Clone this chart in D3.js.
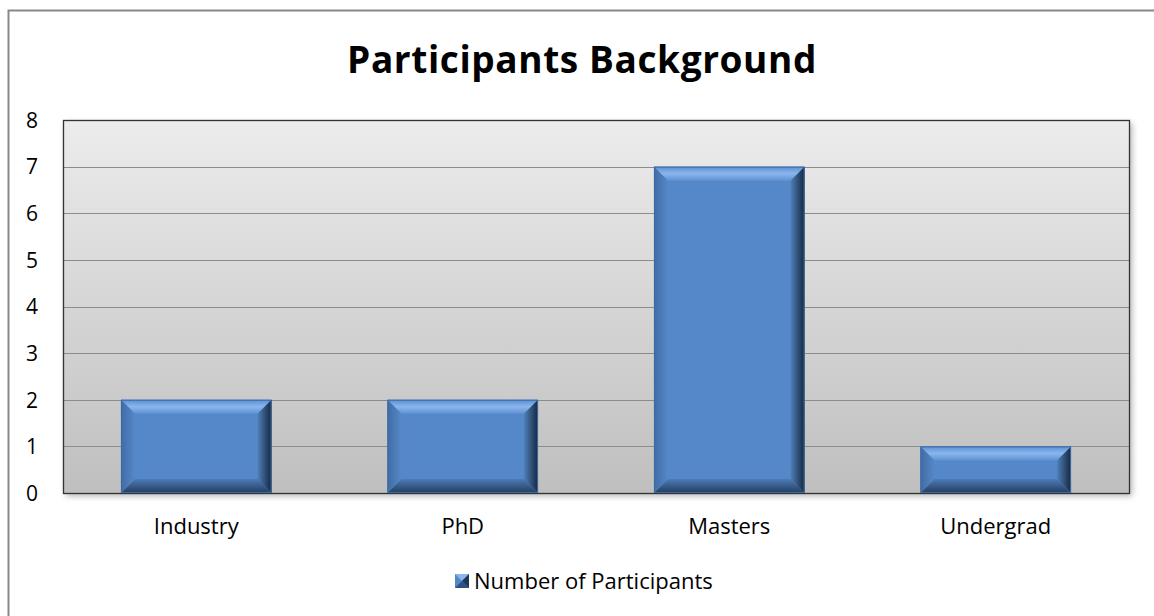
<!DOCTYPE html>
<html>
<head>
<meta charset="utf-8">
<script src="https://cdn.jsdelivr.net/npm/d3@7"></script>
<style>
  body { margin: 0; background: #fff; }
  text { font-family: "Open Sans", sans-serif; fill: #000; }
</style>
</head>
<body>
<svg id="chart" width="1154" height="616"></svg>
<script>
const categories = ["Industry", "PhD", "Masters", "Undergrad"];
const participants = [2, 2, 7, 1];
const yTicks = [0, 1, 2, 3, 4, 5, 6, 7, 8];
const seriesName = "Number of Participants";

const WIDTH = 1154, HEIGHT = 616;
const PLOT = { left: 63, right: 1129, top: 120, bottom: 493 };
const BEVEL = 14;

const svg = d3.select("#chart");
const defs = svg.append("defs");

const bg = defs.append("linearGradient").attr("id", "bg")
  .attr("x1", 0).attr("y1", 0).attr("x2", 0).attr("y2", 1);
bg.append("stop").attr("offset", "0%").attr("stop-color", "#ececec");
bg.append("stop").attr("offset", "100%").attr("stop-color", "#bfbfbf");

const shadow = defs.append("filter").attr("id", "shadow")
  .attr("x", "-5%").attr("y", "-5%").attr("width", "110%").attr("height", "115%");
shadow.append("feDropShadow").attr("dx", 3).attr("dy", 3).attr("stdDeviation", 3)
  .attr("flood-color", "#000").attr("flood-opacity", 0.3);

const topG = defs.append("linearGradient").attr("id", "bevelTop")
  .attr("x1", 0).attr("y1", 0).attr("x2", 0).attr("y2", 1);
topG.append("stop").attr("offset", "0%").attr("stop-color", "#5b8fd0");
topG.append("stop").attr("offset", "50%").attr("stop-color", "#8ab6ef");
topG.append("stop").attr("offset", "100%").attr("stop-color", "#5f92d2");

const rightG = defs.append("linearGradient").attr("id", "bevelRight")
  .attr("x1", 0).attr("y1", 0).attr("x2", 1).attr("y2", 0);
rightG.append("stop").attr("offset", "0%").attr("stop-color", "#4f7fb9");
rightG.append("stop").attr("offset", "100%").attr("stop-color", "#15273f");

const botG = defs.append("linearGradient").attr("id", "bevelBottom")
  .attr("x1", 0).attr("y1", 0).attr("x2", 0).attr("y2", 1);
botG.append("stop").attr("offset", "0%").attr("stop-color", "#4c7bb4");
botG.append("stop").attr("offset", "100%").attr("stop-color", "#233d60");

const leftG = defs.append("linearGradient").attr("id", "bevelLeft")
  .attr("x1", 0).attr("y1", 0).attr("x2", 1).attr("y2", 0);
leftG.append("stop").attr("offset", "0%").attr("stop-color", "#3f6ca5");
leftG.append("stop").attr("offset", "100%").attr("stop-color", "#5688c8");

// Outer chart border (runs off the right and bottom edges)
svg.append("path")
  .attr("d", `M8.5,${HEIGHT + 5} V10.5 H${WIDTH + 5}`)
  .attr("fill", "none").attr("stroke", "#888").attr("stroke-width", 2);

svg.append("text")
  .attr("x", 582).attr("y", 73)
  .attr("text-anchor", "middle")
  .attr("font-size", 37).attr("font-weight", "bold")
  .attr("letter-spacing", 0.6)
  .text("Participants Background");

const x = d3.scaleBand().domain(categories)
  .range([PLOT.left, PLOT.right]).paddingInner(0.435).paddingOuter(0.2175);
const y = d3.scaleLinear().domain([0, 8]).range([PLOT.bottom, PLOT.top]);

// Plot area
svg.append("rect")
  .attr("x", PLOT.left).attr("y", PLOT.top)
  .attr("width", PLOT.right - PLOT.left).attr("height", PLOT.bottom - PLOT.top)
  .attr("fill", "url(#bg)").attr("filter", "url(#shadow)");

svg.append("g").selectAll("line")
  .data(yTicks.slice(1, -1))
  .enter().append("line")
  .attr("x1", PLOT.left).attr("x2", PLOT.right)
  .attr("y1", d => Math.round(y(d)) + 0.5).attr("y2", d => Math.round(y(d)) + 0.5)
  .attr("stroke", "#8c8c8c").attr("stroke-width", 1);

svg.append("rect")
  .attr("x", PLOT.left + 0.5).attr("y", PLOT.top + 0.5)
  .attr("width", PLOT.right - PLOT.left).attr("height", PLOT.bottom - PLOT.top)
  .attr("fill", "none").attr("stroke", "#333").attr("stroke-width", 1.3);

// Y axis
const yAxis = svg.append("g")
  .attr("transform", `translate(${PLOT.left - 31},0)`)
  .call(d3.axisLeft(y).tickValues(yTicks).tickSize(0).tickPadding(0));
yAxis.select(".domain").remove();
yAxis.selectAll("text").attr("font-size", 21).attr("font-family", "'Open Sans', sans-serif")
  .attr("text-anchor", "middle").attr("dy", "0.35em");

// Bars with bevel
const bars = svg.append("g").selectAll("g")
  .data(categories.map((c, i) => ({ cat: c, value: participants[i] })))
  .enter().append("g");

bars.each(function(d) {
  const g = d3.select(this);
  const x0 = x(d.cat), x1 = x0 + x.bandwidth();
  const y0 = y(d.value), y1 = y(0);
  const b = Math.min(BEVEL, (y1 - y0) / 2.2);
  g.append("rect").attr("x", x0).attr("y", y0).attr("width", x1 - x0).attr("height", y1 - y0)
    .attr("fill", "#5588c8");
  g.append("polygon").attr("points", `${x0},${y0} ${x1},${y0} ${x1 - b},${y0 + b} ${x0 + b},${y0 + b}`)
    .attr("fill", "url(#bevelTop)");
  g.append("polygon").attr("points", `${x1},${y0} ${x1},${y1} ${x1 - b},${y1 - b} ${x1 - b},${y0 + b}`)
    .attr("fill", "url(#bevelRight)");
  g.append("polygon").attr("points", `${x0},${y1} ${x1},${y1} ${x1 - b},${y1 - b} ${x0 + b},${y1 - b}`)
    .attr("fill", "url(#bevelBottom)");
  g.append("polygon").attr("points", `${x0},${y0} ${x0 + b},${y0 + b} ${x0 + b},${y1 - b} ${x0},${y1}`)
    .attr("fill", "url(#bevelLeft)");
  g.append("rect").attr("x", x0 + 0.5).attr("y", y0 + 0.5).attr("width", x1 - x0 - 1).attr("height", y1 - y0 - 1)
    .attr("fill", "none").attr("stroke", "#3c6aa3").attr("stroke-width", 1);
});

// Category labels
svg.append("g").selectAll("text")
  .data(categories)
  .enter().append("text")
  .attr("x", d => x(d) + x.bandwidth() / 2)
  .attr("y", 534)
  .attr("text-anchor", "middle")
  .attr("font-size", 22)
  .text(d => d);

// Legend
const legend = svg.append("g").attr("transform", "translate(455,574)");
legend.append("rect").attr("x", 0).attr("y", 0).attr("width", 14).attr("height", 14).attr("fill", "#5588c8");
legend.append("polygon").attr("points", "0,0 14,0 7,7").attr("fill", "#8ab6ef");
legend.append("polygon").attr("points", "14,0 14,14 7,7").attr("fill", "#1f3656");
legend.append("polygon").attr("points", "0,14 14,14 7,7").attr("fill", "#2e5080");
legend.append("text").attr("x", 19).attr("y", 15).attr("font-size", 22).text(seriesName);
</script>
</body>
</html>
